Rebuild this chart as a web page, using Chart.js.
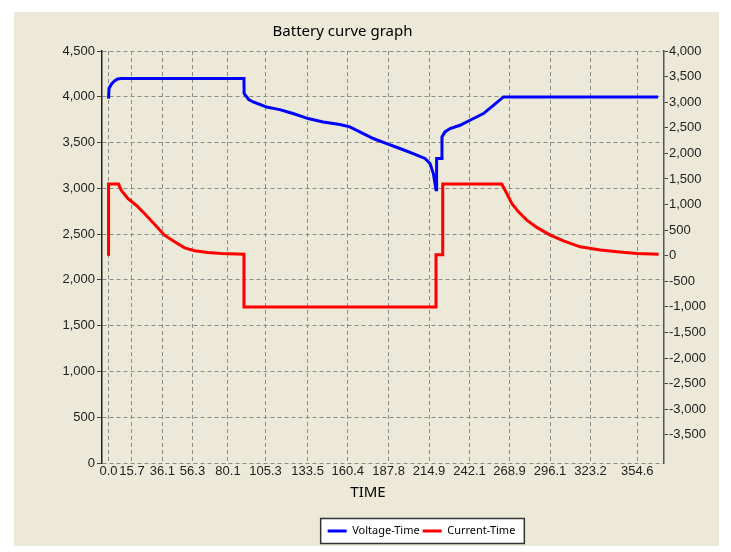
<!DOCTYPE html>
<html>
<head>
<meta charset="utf-8">
<script src="https://cdn.jsdelivr.net/npm/chart.js@4.4.1/dist/chart.umd.min.js"></script>
<style>
html,body{margin:0;padding:0;background:#ffffff;}
canvas{display:block;}
</style>
</head>
<body>
<canvas id="c" width="731" height="552"></canvas>
<script>
// ---------- data ----------
const chartTitle = 'Battery curve graph';
const xAxisTitle = 'TIME';
const seriesNames = ['Voltage-Time', 'Current-Time'];

const timeTicks = [0.0, 15.7, 36.1, 56.3, 80.1, 105.3, 133.5, 160.4, 187.8, 214.9, 242.1, 268.9, 296.1, 323.2, 354.6];
const voltTicks = [0, 500, 1000, 1500, 2000, 2500, 3000, 3500, 4000, 4500];
const currTicks = [-3500, -3000, -2500, -2000, -1500, -1000, -500, 0, 500, 1000, 1500, 2000, 2500, 3000, 3500, 4000];

const voltTime = [0, 0.3, 2, 4, 6, 8.5, 90.8, 90.9, 94, 97, 105.9, 114.8, 123.7, 133.8, 143.9, 155.1, 161.8, 168.5, 177.5, 186.5, 195.4, 204.3, 212.2, 215.6, 217.8, 219.6, 220.0, 223.4, 223.6, 225.6, 229, 235.7, 242.4, 251.4, 258.1, 264.8, 368.5];
const voltage  = [3980, 4090, 4140, 4173, 4195, 4200, 4200, 4035, 3970, 3943, 3889, 3860, 3817, 3762, 3725, 3697, 3671, 3616, 3544, 3489, 3435, 3380, 3326, 3271, 3162, 2985, 3326, 3326, 3562, 3616, 3653, 3689, 3744, 3817, 3907, 3998, 3998];

const currTime = [0, 0, 6.7, 8.5, 12.9, 18.5, 24.1, 30.8, 37.5, 44.3, 51, 57.7, 66.6, 75.6, 90.8, 90.8, 219.6, 219.6, 224.1, 224.1, 263.7, 267.1, 270.4, 274.9, 280.5, 287.2, 296.2, 305.1, 316.3, 329.8, 341, 354.4, 368.9];
const current  = [0, 1400, 1400, 1280, 1118, 987, 825, 616, 402, 271, 154, 96, 65, 45, 31, -1000, -1000, 20, 20, 1400, 1400, 1216, 1021, 857, 695, 553, 402, 291, 174, 110, 77, 45, 31];

// ---------- styling ----------
const tickFont = {family: "'Liberation Sans', Arial, sans-serif", size: 13};
const gridColor = '#8c8c8c';

const panelPlugin = {
  id: 'panel',
  afterLayout(chart) {
    const t = chart.titleBlock;
    if (t) { t.left -= 23; t.right -= 23; }
    const l = chart.legend;
    if (l) { l.left += 56; l.right += 56; }
    const xs = chart.scales.x;
    if (xs && !xs.__titleShift) {
      const orig = xs.drawTitle;
      xs.drawTitle = function () {
        const l0 = this.left;
        this.left = l0 - 30;
        orig.call(this);
        this.left = l0;
      };
      xs.__titleShift = true;
    }
  },
  beforeDraw(chart) {
    const ctx = chart.ctx;
    ctx.save();
    ctx.fillStyle = '#ffffff';
    ctx.fillRect(0, 0, chart.width, chart.height);
    ctx.fillStyle = '#ECE9D8';
    ctx.fillRect(14, 12, 705, 534);
    const hb = chart.legend && chart.legend.legendHitBoxes;
    if (hb && hb.length) {
      const first = hb[0], last = hb[hb.length - 1];
      const x0 = first.left - 7, x1 = last.left + last.width + 9;
      const y0 = first.top - 7, y1 = first.top + first.height + 7;
      ctx.fillStyle = '#ffffff';
      ctx.fillRect(x0, y0, x1 - x0, y1 - y0);
      ctx.strokeStyle = '#333333';
      ctx.lineWidth = 1.5;
      ctx.strokeRect(x0, y0, x1 - x0, y1 - y0);
    }
    ctx.restore();
  }
};

new Chart(document.getElementById('c'), {
  type: 'line',
  data: {
    datasets: [
      {
        label: seriesNames[0],
        data: voltTime.map((t, i) => ({x: t, y: voltage[i]})),
        borderColor: '#0000ff',
        backgroundColor: '#0000ff',
        borderWidth: 3,
        pointRadius: 0,
        tension: 0,
        yAxisID: 'yV'
      },
      {
        label: seriesNames[1],
        data: currTime.map((t, i) => ({x: t, y: current[i]})),
        borderColor: '#ff0000',
        backgroundColor: '#ff0000',
        borderWidth: 3,
        pointRadius: 0,
        tension: 0,
        yAxisID: 'yC'
      }
    ]
  },
  options: {
    responsive: false,
    animation: false,
    devicePixelRatio: 1,
    layout: {padding: {left: 0, right: 0, top: 0, bottom: 5.5}},
    plugins: {
      title: {
        display: true,
        text: chartTitle,
        color: '#000000',
        font: {family: "'Noto Sans', sans-serif", size: 15, weight: 'normal'},
        padding: {top: 23, bottom: 10}
      },
      legend: {
        display: true,
        position: 'bottom',
        labels: {
          usePointStyle: true,
          pointStyle: 'line',
          pointStyleWidth: 19,
          padding: 3,
          color: '#000000',
          font: {family: "'Noto Sans', sans-serif", size: 11}
        }
      },
      tooltip: {enabled: false}
    },
    scales: {
      x: {
        type: 'linear',
        min: -4.4,
        max: 372.5,
        afterBuildTicks: s => { s.ticks = timeTicks.map(v => ({value: v})); },
        afterFit: s => { s.height = 59.5; },
        ticks: {
          autoSkip: false, maxRotation: 0, minRotation: 0, padding: 1,
          color: '#222222', font: tickFont,
          callback: v => Number(v).toFixed(1)
        },
        grid: {color: gridColor, lineWidth: 1, drawTicks: false},
        border: {display: false, dash: [4, 3]},
        title: {
          display: true, text: xAxisTitle, color: '#000000',
          font: {family: "'Noto Sans', sans-serif", size: 15},
          padding: {top: 4, bottom: 20.5}
        }
      },
      yV: {
        type: 'linear',
        position: 'left',
        min: 0,
        max: 4500,
        afterBuildTicks: s => { s.ticks = voltTicks.map(v => ({value: v})); },
        afterFit: s => { s.width = 102; },
        ticks: {
          padding: 2, color: '#222222', font: tickFont,
          callback: v => Number(v).toLocaleString('en-US')
        },
        grid: {color: gridColor, lineWidth: 1, tickLength: 5, tickColor: '#444444'},
        border: {display: true, color: '#222222', width: 1.5, dash: [4, 3]}
      },
      yC: {
        type: 'linear',
        position: 'right',
        min: -4050,
        max: 4000,
        afterBuildTicks: s => { s.ticks = currTicks.map(v => ({value: v})); },
        afterFit: s => { s.width = 67; },
        ticks: {
          padding: 1, color: '#222222', font: tickFont,
          callback: v => Number(v).toLocaleString('en-US')
        },
        grid: {drawOnChartArea: false, tickLength: 4, tickColor: '#444444'},
        border: {display: true, color: '#555555', width: 1.5}
      }
    }
  },
  plugins: [panelPlugin]
});
</script>
</body>
</html>
